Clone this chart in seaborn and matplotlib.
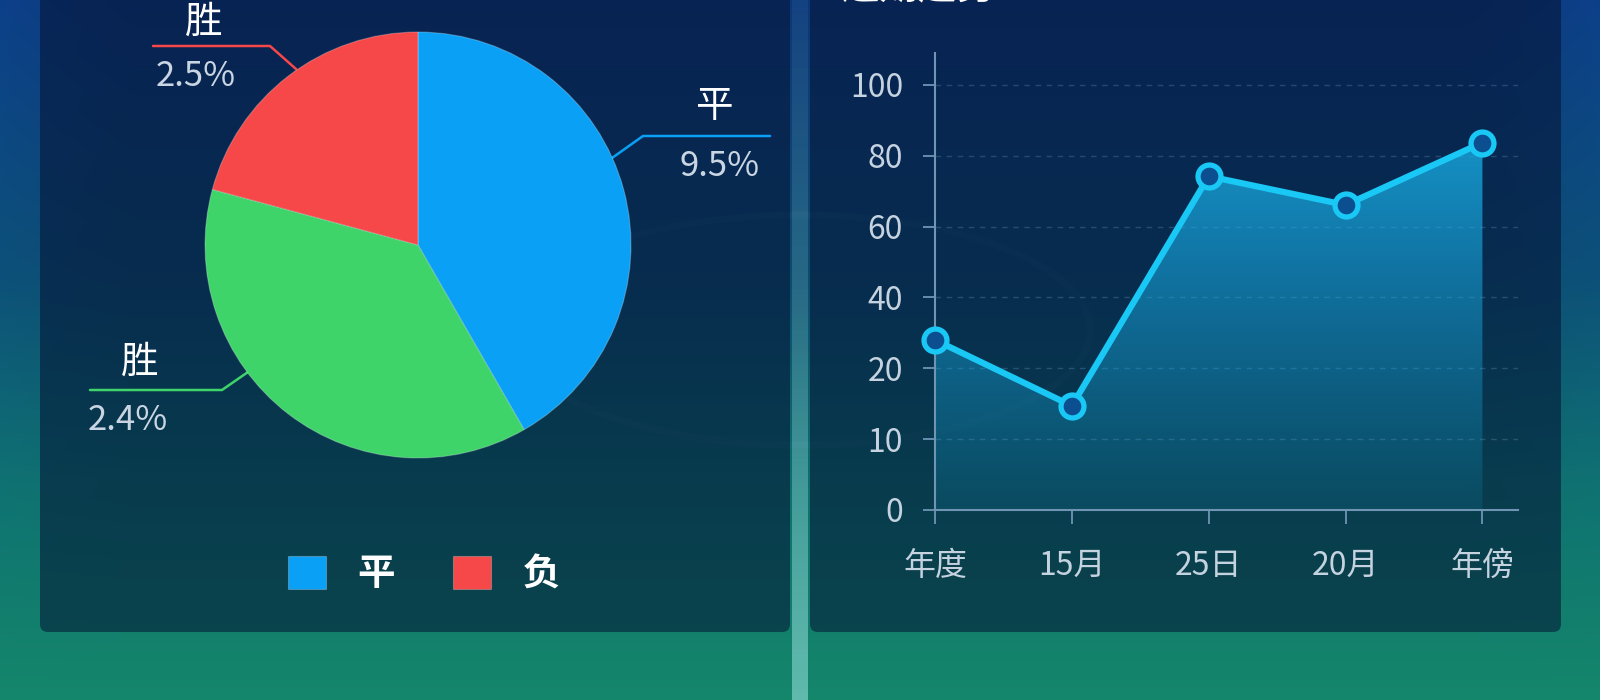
import numpy as np
import seaborn as sns
import matplotlib.pyplot as plt
from matplotlib.patches import FancyBboxPatch, Ellipse
from matplotlib.lines import Line2D

# pie data (labels kept as shown in the picture)
pie_share = [41.7, 37.5, 20.8]
pie_names = ["平", "胜", "胜"]
pie_pcts = ["9.5%", "2.4%", "2.5%"]
pie_colors = ["#0aa0f5", "#3ed46a", "#f64848"]
legend_names = ["平", "负"]

# trend data
periods = ["年度", "15月", "25日", "20月", "年傍"]
trend = [28.0, 14.7, 74.2, 66.1, 83.7]
y_ticks = [0, 10, 20, 40, 60, 80, 100]
title_right = "近期趋势"

W, H = 1600, 700

sns.set_theme(style="dark")
plt.rcParams["font.family"] = ["Noto Sans CJK SC", "DejaVu Sans"]
plt.rcParams["axes.unicode_minus"] = False

fig = plt.figure(figsize=(16, 7), dpi=100)

# ---------- background ----------
bg = fig.add_axes([0, 0, 1, 1], zorder=0)
bg.set_xlim(0, W)
bg.set_ylim(H, 0)
bg.axis("off")

stops_t = [0.0, 0.4, 0.7, 1.0]
stops_c = np.array([[0.05, 0.22, 0.48],
                    [0.05, 0.30, 0.44],
                    [0.06, 0.44, 0.43],
                    [0.08, 0.53, 0.42]])
t = np.linspace(0, 1, H)
col = np.stack([np.interp(t, stops_t, stops_c[:, k]) for k in range(3)], axis=1)
img = np.repeat(col[:, None, :], W, axis=1)
xx = np.linspace(0, 1, W)
edge = np.clip(1 - np.minimum(xx, 1 - xx) * 12, 0, 1)[None, :, None]
img = img + edge * np.array([0.0, 0.03, 0.06]) * (1 - t)[:, None, None]
bg.imshow(np.clip(img, 0, 1), extent=(0, W, H, 0), aspect="auto", zorder=0)

bg.add_patch(Ellipse((800, 330), 580, 230, fill=False, edgecolor="#9fd8ff",
                     alpha=0.035, lw=5, zorder=1))

# pitch centre line
line_img = np.zeros((H, 1, 4))
line_img[:, 0, :3] = [0.62, 0.90, 0.90]
line_img[:, 0, 3] = np.interp(t, [0, 0.45, 0.9, 1], [0.06, 0.2, 0.5, 0.55])
bg.imshow(line_img, extent=(792, 808, H, 0), aspect="auto", zorder=1)

for x0, w in [(40, 750), (810, 751)]:
    bg.add_patch(FancyBboxPatch((x0, -30), w, 662,
                                boxstyle="round,pad=0,rounding_size=8",
                                facecolor=(0.01, 0.07, 0.2), alpha=0.55,
                                edgecolor="none", zorder=2))

bg.text(840, -13, title_right, color="white", fontsize=28, fontweight="bold",
        va="center", ha="left", zorder=5)

# ---------- pie ----------
cx, cy, r = 418, 245, 213
ax_pie = fig.add_axes([(cx - r) / W, (H - cy - r) / H, 2 * r / W, 2 * r / H], zorder=3)
wedges, _ = ax_pie.pie(pie_share, colors=pie_colors, startangle=90, counterclock=False,
                       radius=1, wedgeprops=dict(linewidth=0.8, edgecolor=(1, 1, 1, 0.25)))
ax_pie.set_xlim(-1, 1)
ax_pie.set_ylim(-1, 1)
ax_pie.set_aspect("equal")
ax_pie.patch.set_alpha(0)

# leader lines and labels: (path, name pos, pct pos, pct align)
leaders = [
    ([(612, 158), (643, 136), (770, 136)], (714, 107), (760, 166), "right"),
    ([(248, 372), (222, 390), (90, 390)], (140, 362), (88, 421), "left"),
    ([(296, 69), (270, 46), (153, 46)], (204, 22), (156, 77), "left"),
]
for i, (path, npos, ppos, ha) in enumerate(leaders):
    xs, ys = zip(*path)
    bg.add_line(Line2D(xs, ys, color=pie_colors[i], lw=1.8, zorder=4))
    bg.text(*npos, pie_names[i], color="white", fontsize=27, ha="center",
            va="center", zorder=5)
    bg.text(*ppos, pie_pcts[i], color="#c9d5e2", fontsize=25, ha=ha,
            va="center", zorder=5)

fig.legend(handles=[wedges[0], wedges[2]], labels=legend_names, loc="center",
           bbox_to_anchor=(424 / W, 1 - 574 / H), ncol=2, frameon=False,
           prop={"size": 27, "weight": "bold"}, labelcolor="white",
           handlelength=1.0, handleheight=1.0, handletextpad=0.85,
           columnspacing=1.55)

# ---------- trend line ----------
ax = fig.add_axes([935 / W, 1 - 510 / H, (1518 - 935) / W, (510 - 53) / H], zorder=3)
ax.patch.set_alpha(0)

sns.lineplot(x=periods, y=trend, ax=ax, color="#19c8f5", lw=4.5, marker="o",
             markersize=16.5, markerfacecolor="#0b4f90", markeredgecolor="#19c8f5",
             markeredgewidth=3.8, zorder=5, clip_on=False)

_vals = [-10] + y_ticks + [200]
_pos = [-1, 0, 1, 2, 3, 4, 5, 6, 11]
ax.set_yscale("function", functions=(lambda v: np.interp(v, _vals, _pos),
                                     lambda p: np.interp(p, _pos, _vals)))
ax.set_ylim(0, np.interp(6.45, _pos, _vals))
ax.set_xlim(0, 4.26)
ax.set_yticks(y_ticks)
ax.set_yticklabels([str(v) for v in y_ticks])
ax.yaxis.set_minor_locator(plt.NullLocator())

xi = np.arange(len(periods))
poly = ax.fill_between(xi, trend, 0, color="none", lw=0)
grad = np.zeros((256, 1, 4))
grad[:, 0, :3] = [0.10, 0.70, 0.92]
grad[:, 0, 3] = np.linspace(0.92, 0.12, 256)
im = ax.imshow(grad, extent=(0, 4 / 4.26, 0, 1), transform=ax.transAxes,
               aspect="auto", zorder=2)
im.set_clip_path(poly.get_paths()[0], transform=ax.transData)

ax.grid(axis="y", linestyle=(0, (4, 4)), color="#7fb2d8", alpha=0.25, lw=1)
ax.grid(axis="x", visible=False)
for s in ["top", "right"]:
    ax.spines[s].set_visible(False)
for s in ["left", "bottom"]:
    ax.spines[s].set_visible(True)
    ax.spines[s].set_color("#6f95b5")
    ax.spines[s].set_linewidth(1.5)
ax.tick_params(axis="y", colors="#6f95b5", length=9, width=1.3, pad=14,
               labelcolor="#c5d3e0", labelsize=23, left=True)
ax.tick_params(axis="x", colors="#6f95b5", length=10, width=1.3, pad=19,
               labelcolor="#c5d3e0", labelsize=23, bottom=True)
ax.set_xlabel("")
ax.set_ylabel("")

fig.savefig("out.png", dpi=100)
